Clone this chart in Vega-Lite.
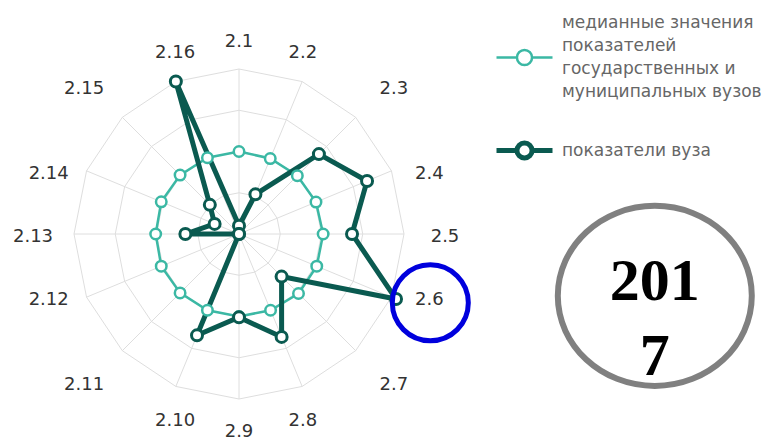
{
  "$schema": "https://vega.github.io/schema/vega-lite/v6.json",
  "width": 330,
  "height": 330,
  "autosize": {"type": "none"},
  "padding": {"left": 74, "top": 69, "right": 363, "bottom": 42},
  "background": "white",
  "config": {"view": {"stroke": null}},
  "datasets": {
    "radar": [
      {"axis": "2.1", "i": 0, "series": "медианные значения показателей государственных и муниципальных вузов", "value": 1.0},
      {"axis": "2.2", "i": 1, "series": "медианные значения показателей государственных и муниципальных вузов", "value": 0.99},
      {"axis": "2.3", "i": 2, "series": "медианные значения показателей государственных и муниципальных вузов", "value": 1.0},
      {"axis": "2.4", "i": 3, "series": "медианные значения показателей государственных и муниципальных вузов", "value": 1.01},
      {"axis": "2.5", "i": 4, "series": "медианные значения показателей государственных и муниципальных вузов", "value": 1.02},
      {"axis": "2.6", "i": 5, "series": "медианные значения показателей государственных и муниципальных вузов", "value": 1.02},
      {"axis": "2.7", "i": 6, "series": "медианные значения показателей государственных и муниципальных вузов", "value": 1.02},
      {"axis": "2.8", "i": 7, "series": "медианные значения показателей государственных и муниципальных вузов", "value": 1.0},
      {"axis": "2.9", "i": 8, "series": "медианные значения показателей государственных и муниципальных вузов", "value": 1.0},
      {"axis": "2.10", "i": 9, "series": "медианные значения показателей государственных и муниципальных вузов", "value": 1.0},
      {"axis": "2.11", "i": 10, "series": "медианные значения показателей государственных и муниципальных вузов", "value": 1.01},
      {"axis": "2.12", "i": 11, "series": "медианные значения показателей государственных и муниципальных вузов", "value": 1.02},
      {"axis": "2.13", "i": 12, "series": "медианные значения показателей государственных и муниципальных вузов", "value": 1.01},
      {"axis": "2.14", "i": 13, "series": "медианные значения показателей государственных и муниципальных вузов", "value": 1.02},
      {"axis": "2.15", "i": 14, "series": "медианные значения показателей государственных и муниципальных вузов", "value": 1.01},
      {"axis": "2.16", "i": 15, "series": "медианные значения показателей государственных и муниципальных вузов", "value": 1.0},
      {"axis": "2.1", "i": 0, "series": "показатели вуза", "value": 0.1},
      {"axis": "2.2", "i": 1, "series": "показатели вуза", "value": 0.52},
      {"axis": "2.3", "i": 2, "series": "показатели вуза", "value": 1.37},
      {"axis": "2.4", "i": 3, "series": "показатели вуза", "value": 1.68},
      {"axis": "2.5", "i": 4, "series": "показатели вуза", "value": 1.37},
      {"axis": "2.6", "i": 5, "series": "показатели вуза", "value": 2.06},
      {"axis": "2.7", "i": 6, "series": "показатели вуза", "value": 0.73},
      {"axis": "2.8", "i": 7, "series": "показатели вуза", "value": 1.35},
      {"axis": "2.9", "i": 8, "series": "показатели вуза", "value": 1.01},
      {"axis": "2.10", "i": 9, "series": "показатели вуза", "value": 1.33},
      {"axis": "2.11", "i": 10, "series": "показатели вуза", "value": 0},
      {"axis": "2.12", "i": 11, "series": "показатели вуза", "value": 0},
      {"axis": "2.13", "i": 12, "series": "показатели вуза", "value": 0.65},
      {"axis": "2.14", "i": 13, "series": "показатели вуза", "value": 0.32},
      {"axis": "2.15", "i": 14, "series": "показатели вуза", "value": 0.5},
      {"axis": "2.16", "i": 15, "series": "показатели вуза", "value": 2.0}
    ]
  },
  "data": {"name": "radar"},
  "transform": [
    {"calculate": "datum.i*PI/8", "as": "theta"},
    {"calculate": "datum.value*sin(datum.theta)", "as": "px"},
    {"calculate": "datum.value*cos(datum.theta)", "as": "py"},
    {"calculate": "abs(sin(datum.theta)) < 0.5 ? 2.024 : (abs(sin(datum.theta)) < 0.8 ? 2.655 : 2.497)", "as": "rx"},
    {"calculate": "abs(cos(datum.theta)) < 0.5 ? 1.988 : (abs(cos(datum.theta)) < 0.8 ? 2.533 : (abs(cos(datum.theta)) < 0.99 ? 2.412 : 2.364))", "as": "ry"},
    {"calculate": "datum.rx*sin(datum.theta)", "as": "lx"},
    {"calculate": "datum.ry*cos(datum.theta)", "as": "ly"}
  ],
  "layer": [
    {
      "transform": [
        {"filter": "datum.series == 'показатели вуза'"},
        {"calculate": "[0.5, 1, 1.5, 2]", "as": "lv"},
        {"flatten": ["lv"]},
        {"calculate": "datum.lv*sin(datum.theta)", "as": "gx"},
        {"calculate": "datum.lv*cos(datum.theta)", "as": "gy"}
      ],
      "mark": {"type": "line", "interpolate": "linear-closed", "stroke": "#dedede", "strokeWidth": 1},
      "encoding": {
        "x": {"field": "gx", "type": "quantitative", "scale": {"domain": [-2, 2], "nice": false, "zero": false}, "axis": null},
        "y": {"field": "gy", "type": "quantitative", "scale": {"domain": [-2, 2], "nice": false, "zero": false}, "axis": null},
        "detail": {"field": "lv", "type": "nominal"},
        "order": {"field": "i", "type": "quantitative"}
      }
    },
    {
      "transform": [
        {"filter": "datum.series == 'показатели вуза'"},
        {"calculate": "0", "as": "o"},
        {"calculate": "2*sin(datum.theta)", "as": "sx"},
        {"calculate": "2*cos(datum.theta)", "as": "sy"}
      ],
      "mark": {"type": "rule", "stroke": "#dedede", "strokeWidth": 1},
      "encoding": {
        "x": {"field": "o", "type": "quantitative"},
        "y": {"field": "o", "type": "quantitative"},
        "x2": {"field": "sx"},
        "y2": {"field": "sy"}
      }
    },
    {
      "transform": [{"filter": "datum.series == 'показатели вуза'"}],
      "mark": {"type": "text", "font": "DejaVu Sans", "fontSize": 18, "fill": "#333333", "align": "center", "baseline": "middle", "dy": 3},
      "encoding": {
        "x": {"field": "lx", "type": "quantitative"},
        "y": {"field": "ly", "type": "quantitative"},
        "text": {"field": "axis", "type": "nominal"}
      }
    },
    {
      "mark": {"type": "line", "interpolate": "linear-closed"},
      "encoding": {
        "x": {"field": "px", "type": "quantitative"},
        "y": {"field": "py", "type": "quantitative"},
        "order": {"field": "i", "type": "quantitative"},
        "color": {
          "field": "series", "type": "nominal",
          "scale": {"domain": ["медианные значения показателей государственных и муниципальных вузов", "показатели вуза"], "range": ["#3bb8a4", "#0a5a50"]},
          "legend": {
            "title": null,
            "orient": "none",
            "legendX": 420,
            "legendY": -41,
            "padding": 0,
            "symbolType": "M-1,0L-0.27,0M0.27,0L1,0M-0.27,0A0.27,0.27,0,1,1,0.27,0A0.27,0.27,0,1,1,-0.27,0Z",
            "symbolSize": 3136,
            "symbolFillColor": "white",
            "labelFont": "DejaVu Sans",
            "labelFontSize": 17,
            "labelColor": "#666666",
            "labelOffset": 7,
            "labelLimit": 400,
            "rowPadding": 20,
            "labelExpr": "datum.label == 'показатели вуза' ? datum.label : ['медианные значения', 'показателей', 'государственных и', 'муниципальных вузов']",
            "encode": {
              "labels": {
                "update": {
                  "lineHeight": {"value": 23},
                  "dy": {"signal": "datum.value == 'показатели вуза' ? 0 : -34.5"}
                }
              }
            }
          }
        },
        "strokeWidth": {
          "field": "series", "type": "nominal",
          "scale": {"domain": ["медианные значения показателей государственных и муниципальных вузов", "показатели вуза"], "range": [2.5, 5]},
          "legend": null
        }
      }
    },
    {
      "transform": [{"filter": "datum.series != 'показатели вуза'"}],
      "mark": {"type": "point", "shape": "circle", "filled": true, "fill": "white", "stroke": "#3bb8a4", "strokeWidth": 2.5, "size": 110, "opacity": 1},
      "encoding": {
        "x": {"field": "px", "type": "quantitative"},
        "y": {"field": "py", "type": "quantitative"}
      }
    },
    {
      "transform": [{"filter": "datum.series == 'показатели вуза'"}],
      "mark": {"type": "point", "shape": "circle", "filled": true, "fill": "white", "stroke": "#0a5a50", "strokeWidth": 3, "size": 121, "opacity": 1},
      "encoding": {
        "x": {"field": "px", "type": "quantitative"},
        "y": {"field": "py", "type": "quantitative"}
      }
    },
    {
      "transform": [
        {"filter": "datum.series == 'показатели вуза' && datum.axis == '2.6'"},
        {"calculate": "datum.lx + 1/82.5", "as": "cx"},
        {"calculate": "datum.ly - 6/82.5", "as": "cy"}
      ],
      "mark": {"type": "point", "shape": "circle", "filled": false, "stroke": "#0000dd", "strokeWidth": 5, "size": 5776, "opacity": 1},
      "encoding": {
        "x": {"field": "cx", "type": "quantitative"},
        "y": {"field": "cy", "type": "quantitative"}
      }
    },
    {
      "data": {"values": [{"year": "2017"}]},
      "mark": {"type": "point", "shape": "M-1,0C-1,-0.5125,-0.5523,-0.928,0,-0.928C0.5523,-0.928,1,-0.5125,1,0C1,0.5125,0.5523,0.928,0,0.928C-0.5523,0.928,-1,0.5125,-1,0Z", "filled": false, "stroke": "#808080", "strokeWidth": 6, "size": 37636, "opacity": 1},
      "encoding": {
        "x": {"datum": 5.04, "type": "quantitative"},
        "y": {"datum": -0.75, "type": "quantitative"}
      }
    },
    {
      "data": {"values": [{"year": "2017"}]},
      "mark": {"type": "text", "text": ["201", "7"], "font": "Liberation Serif", "fontWeight": "bold", "fontSize": 60, "lineHeight": 75, "fill": "black", "align": "center", "baseline": "middle"},
      "encoding": {
        "x": {"datum": 5.04, "type": "quantitative"},
        "y": {"datum": -0.582, "type": "quantitative"}
      }
    }
  ]
}
